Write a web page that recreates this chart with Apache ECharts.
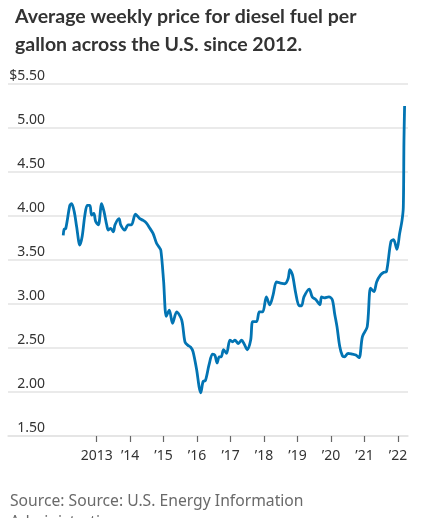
<!DOCTYPE html>
<html><head><meta charset="utf-8">
<script src="https://cdn.jsdelivr.net/npm/echarts@6/dist/echarts.min.js"></script>
<style>html,body{margin:0;padding:0;background:#fff}#c{width:427px;height:518px}</style>
</head><body><div id="c"></div>
<script>
// Weekly diesel price readings (date, $/gallon)
const dates = [
 '2012-01-02','2012-01-12','2012-01-30','2012-03-14','2012-04-02','2012-05-01','2012-05-27','2012-07-01','2012-07-27','2012-08-25','2012-09-20','2012-10-19','2012-11-06','2012-12-01','2012-12-20',
 '2013-01-19','2013-02-24','2013-03-22','2013-04-20','2013-05-08','2013-06-03','2013-07-02','2013-07-20','2013-09-02','2013-09-20','2013-11-03','2013-12-10',
 '2014-01-15','2014-02-28','2014-04-16','2014-05-23','2014-06-28','2014-08-04','2014-09-09','2014-10-16','2014-11-10','2014-12-02',
 '2015-01-01','2015-01-30','2015-03-04','2015-04-09','2015-05-23','2015-07-17','2015-08-22','2015-09-24','2015-10-23','2015-11-18','2015-12-28',
 '2016-01-23','2016-02-10','2016-03-07','2016-04-01','2016-05-11','2016-06-17','2016-07-13','2016-08-07','2016-08-29','2016-09-20','2016-10-16','2016-11-18','2016-12-24',
 '2017-01-23','2017-02-17','2017-03-26','2017-05-01','2017-05-27','2017-07-02','2017-08-08','2017-08-30','2017-10-12','2017-11-10','2017-12-17',
 '2018-01-26','2018-03-04','2018-04-09','2018-05-16','2018-06-21','2018-08-15','2018-09-21','2018-10-09','2018-11-07','2018-12-13',
 '2019-01-19','2019-02-14','2019-03-12','2019-05-09','2019-06-11','2019-07-20','2019-09-02','2019-09-20','2019-10-19','2019-12-09',
 '2020-01-15','2020-02-10','2020-03-07','2020-04-05','2020-05-05','2020-05-27','2020-07-06','2020-08-22','2020-09-28','2020-11-03','2020-12-09',
 '2021-01-30','2021-03-08','2021-04-14','2021-05-13','2021-06-25','2021-07-31','2021-08-29','2021-10-16','2021-11-14','2021-12-20',
 '2022-01-19','2022-02-14','2022-02-28','2022-03-07','2022-03-14'
];
const prices = [
 3.78,3.85,3.86,4.12,4.14,4.05,3.88,3.67,3.77,4.01,4.12,4.12,4.01,4.03,3.94,
 3.90,4.14,4.05,3.90,3.84,3.86,3.82,3.90,3.97,3.90,3.84,3.90,
 3.90,4.02,3.97,3.95,3.92,3.86,3.80,3.69,3.65,3.61,
 3.26,2.86,2.93,2.78,2.91,2.82,2.57,2.53,2.51,2.46,2.25,
 2.06,1.99,2.12,2.13,2.31,2.43,2.42,2.33,2.40,2.40,2.48,2.44,2.59,
 2.57,2.59,2.55,2.59,2.55,2.48,2.59,2.80,2.80,2.91,2.91,
 3.08,2.99,3.10,3.25,3.24,3.23,3.29,3.39,3.33,3.12,
 2.98,2.98,3.08,3.17,3.08,3.05,2.99,3.08,3.07,3.08,
 3.05,2.89,2.74,2.52,2.41,2.40,2.44,2.43,2.42,2.39,2.63,
 2.74,3.18,3.14,3.25,3.33,3.36,3.37,3.71,3.73,3.62,
 3.80,3.95,4.10,4.85,5.25
];
const tickYears = [2013,2014,2015,2016,2017,2018,2019,2020,2021,2022];
const tickLabels = ['2013','\u201914','\u201915','\u201916','\u201917','\u201918','\u201919','\u201920','\u201921','\u201922'];

const chart = echarts.init(document.getElementById('c'));
const DAY = 86400000;
const ts = d => Date.parse(d + 'T00:00:00Z');
const yearTs = tickYears.map(y => Date.UTC(y,0,1));
const xMin = yearTs[0] - 2.649*365.25*DAY;
const xMax = yearTs[yearTs.length-1] + 0.299*365.25*DAY;

chart.setOption({
  animation:false,
  title:{
    text:'Average weekly price for diesel fuel per\ngallon across the U.S. since 2012.',
    left:10, top:-2,
    textStyle:{fontFamily:'Lato', fontWeight:'bold', fontSize:19.5, lineHeight:28, color:'#333'}
  },
  graphic:[{
    type:'text', left:10, top:491,
    style:{text:'Source: Source: U.S. Energy Information\nAdministration', fontFamily:'Noto Sans', fontSize:15.7, lineHeight:21, fill:'#6a6a6a'}
  }],
  grid:{left:8, right:19, top:84, bottom:82},
  xAxis:{
    type:'value', min:xMin, max:xMax,
    axisLine:{show:true, lineStyle:{color:'#e3e3e3', width:1.5}},
    axisTick:{show:true, customValues:yearTs, length:6, lineStyle:{color:'#666', width:1.2}},
    axisLabel:{customValues:yearTs, margin:13, fontFamily:'Noto Sans', fontSize:14, color:'#333',
      formatter:(v)=>{const i=tickYears.indexOf(new Date(v).getUTCFullYear()); return i>=0?tickLabels[i]:'';}},
    splitLine:{show:false}
  },
  yAxis:{
    type:'value', min:1.5, max:5.5, interval:0.5,
    axisLine:{show:false}, axisTick:{show:false},
    splitLine:{show:true, lineStyle:{color:'#e3e3e3', width:1.5}},
    axisLabel:{inside:true, align:'right', margin:37, verticalAlign:'bottom', padding:[0,0,0,0],
      fontFamily:'Noto Sans', fontSize:14, lineHeight:16, color:'#333',
      formatter:(v)=> (Math.abs(v-5.5)<1e-9?'$':'') + v.toFixed(2)}
  },
  series:[{
    type:'line', showSymbol:false, smooth:0.3,
    data:dates.map((d,i)=>[ts(d),prices[i]]),
    lineStyle:{color:'#0274b3', width:2.8},
    itemStyle:{color:'#0274b3'}
  }]
});
</script></body></html>
